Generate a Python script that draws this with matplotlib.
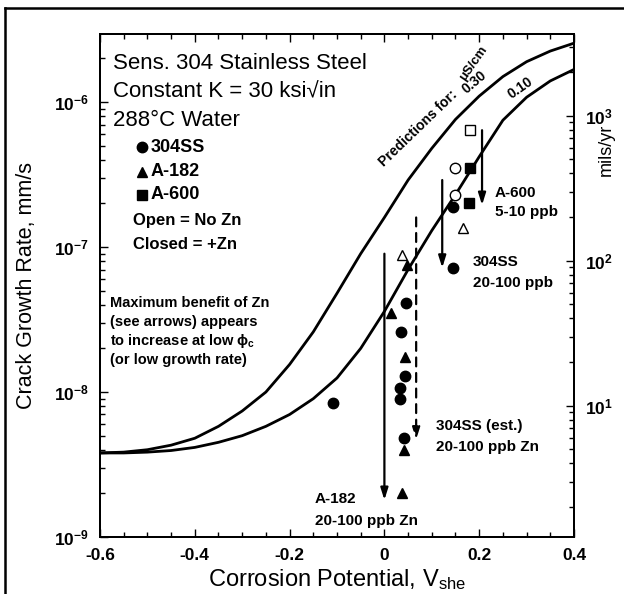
import matplotlib
matplotlib.use('Agg')
import matplotlib.pyplot as plt
from matplotlib.ticker import FixedLocator, NullFormatter, FixedFormatter, MultipleLocator
from matplotlib.lines import Line2D

plt.rcParams['font.family'] = ['Liberation Sans', 'DejaVu Sans']
plt.rcParams['mathtext.fontset'] = 'custom'
plt.rcParams['mathtext.rm'] = 'Liberation Sans'
plt.rcParams['mathtext.it'] = 'Liberation Sans:italic'
plt.rcParams['mathtext.bf'] = 'Liberation Sans:bold'

# ---------------- data ----------------
curve_potential = [-0.6, -0.55, -0.5, -0.45, -0.4, -0.35, -0.3, -0.25, -0.2, -0.15,
                   -0.1, -0.05, 0.0, 0.05, 0.1, 0.15, 0.2, 0.25, 0.3, 0.35, 0.4]
pred_030 = [3.8e-9, 3.85e-9, 4.0e-9, 4.3e-9, 4.8e-9, 5.8e-9, 7.4e-9, 1.0e-8, 1.55e-8, 2.6e-8,
            4.8e-8, 9.0e-8, 1.6e-7, 2.9e-7, 4.8e-7, 7.6e-7, 1.1e-6, 1.5e-6, 1.9e-6, 2.25e-6, 2.55e-6]
pred_010 = [3.8e-9, 3.8e-9, 3.85e-9, 3.95e-9, 4.15e-9, 4.5e-9, 5.0e-9, 5.8e-9, 7.0e-9, 9.0e-9,
            1.25e-8, 2.0e-8, 3.6e-8, 7.0e-8, 1.3e-7, 2.3e-7, 4.2e-7, 7.5e-7, 1.08e-6, 1.4e-6, 1.68e-6]

ss304_closed_x = [0.145, 0.145, 0.046, 0.035, 0.043, 0.033, 0.033, -0.108, 0.041]
ss304_closed_y = [1.9e-7, 7.2e-8, 4.1e-8, 2.6e-8, 1.3e-8, 1.07e-8, 9.0e-9, 8.4e-9, 4.8e-9]
ss304_open_x = [0.149, 0.149]
ss304_open_y = [3.5e-7, 2.3e-7]
a182_closed_x = [0.048, 0.014, 0.043, 0.041, 0.037]
a182_closed_y = [7.5e-8, 3.5e-8, 1.75e-8, 4.0e-9, 2.0e-9]
a182_open_x = [0.037, 0.166]
a182_open_y = [8.8e-8, 1.35e-7]
a600_closed_x = [0.18, 0.178]
a600_closed_y = [3.5e-7, 2.0e-7]
a600_open_x = [0.18]
a600_open_y = [6.4e-7]

arrow_x = [0.206, 0.122, 0.067, 0.0]
arrow_top = [6.4e-7, 2.9e-7, 1.6e-7, 9.0e-8]
arrow_bottom = [1.95e-7, 7.2e-8, 4.7e-9, 1.8e-9]
arrow_dashed = [False, False, True, False]

x_ticks = [-0.6, -0.4, -0.2, 0, 0.2, 0.4]
x_ticklabels = ['-0.6', '-0.4', '-0.2', '0', '0.2', '0.4']
y_ticks = [1e-9, 1e-8, 1e-7, 1e-6]
y_ticklabels = [r'$\mathregular{10^{-9}}$', r'$\mathregular{10^{-8}}$',
                r'$\mathregular{10^{-7}}$', r'$\mathregular{10^{-6}}$']
right_ticks = [10, 100, 1000]
right_ticklabels = [r'$\mathregular{10^{1}}$', r'$\mathregular{10^{2}}$', r'$\mathregular{10^{3}}$']
mm_s_to_mils_yr = 1.243e9

# ---------------- figure ----------------
fig = plt.figure(figsize=(6.24, 5.94), dpi=100)
ax = fig.add_axes([100/624, 1-537/594, 474/624, 503/594])

lw_curve = 2.0
ax.plot(curve_potential, pred_030, color='black', lw=lw_curve, solid_capstyle='round')
ax.plot(curve_potential, pred_010, color='black', lw=lw_curve, solid_capstyle='round')

ms = 7.5
ax.plot(ss304_closed_x, ss304_closed_y, 'o', color='black', ms=ms)
ax.plot(ss304_open_x, ss304_open_y, 'o', mfc='white', mec='black', mew=1.0, ms=ms)
ax.plot(a182_closed_x, a182_closed_y, '^', color='black', ms=ms)
ax.plot(a182_open_x, a182_open_y, '^', mfc='white', mec='black', mew=1.0, ms=ms)
ax.plot(a600_closed_x, a600_closed_y, 's', color='black', ms=ms - 0.5)
ax.plot(a600_open_x, a600_open_y, 's', mfc='white', mec='black', mew=1.0, ms=ms - 0.5)

for xa, yt, yb, dashed in zip(arrow_x, arrow_top, arrow_bottom, arrow_dashed):
    ax.annotate('', xy=(xa, yb), xytext=(xa, yt),
                arrowprops=dict(arrowstyle='-|>,head_length=0.7,head_width=0.22',
                                color='black', lw=1.6,
                                linestyle=(0, (4, 3)) if dashed else '-',
                                shrinkA=0, shrinkB=0))

ax.set_yscale('log')
ax.set_xlim(-0.6, 0.4)
ax.set_ylim(1e-9, 2.95e-6)

ax.xaxis.set_major_locator(FixedLocator(x_ticks))
ax.xaxis.set_major_formatter(FixedFormatter(x_ticklabels))
ax.xaxis.set_minor_locator(MultipleLocator(0.05))
ax.yaxis.set_major_locator(FixedLocator(y_ticks))
ax.yaxis.set_major_formatter(FixedFormatter(y_ticklabels))
ax.yaxis.set_minor_locator(FixedLocator([m * 10.0**e for e in range(-9, -5) for m in range(2, 10)]))
ax.yaxis.set_minor_formatter(NullFormatter())

ax.tick_params(which='both', direction='in', top=True, right=False, width=1.0)
ax.tick_params(which='major', length=6, labelsize=12.5, pad=8)
ax.tick_params(which='minor', length=3.5)
for lab in ax.get_xticklabels() + ax.get_yticklabels():
    lab.set_fontweight('bold')
for s in ax.spines.values():
    s.set_linewidth(1.4)

ax.set_xlabel(r'Corrosion Potential, V$_{\mathregular{she}}$', fontsize=17, labelpad=3)
ax.set_ylabel('Crack Growth Rate, mm/s', fontsize=15.5, labelpad=12)

# right axis (mils/yr)
ax2 = ax.twinx()
ax2.set_yscale('log')
lo, hi = ax.get_ylim()
ax2.set_ylim(lo * mm_s_to_mils_yr, hi * mm_s_to_mils_yr)
ax2.yaxis.set_major_locator(FixedLocator(right_ticks))
ax2.yaxis.set_major_formatter(FixedFormatter(right_ticklabels))
ax2.yaxis.set_minor_locator(FixedLocator([m * 10.0**e for e in range(0, 4) for m in range(2, 10)]))
ax2.yaxis.set_minor_formatter(NullFormatter())
ax2.tick_params(which='both', direction='in', width=1.0)
ax2.tick_params(which='major', length=6, labelsize=12.5, pad=8)
ax2.tick_params(which='minor', length=3.5)
for lab in ax2.get_yticklabels():
    lab.set_fontweight('bold')
for s in ax2.spines.values():
    s.set_linewidth(1.4)
fig.text(606/624, 1-150/594, 'mils/yr', rotation=90, fontsize=13, ha='center', va='center')

# ---------------- annotations ----------------
T = ax.transAxes
ax.text(0.027, 0.942, 'Sens. 304 Stainless Steel', transform=T, fontsize=16, va='center')
ax.text(0.027, 0.885, 'Constant K = 30 ksi\u221ain', transform=T, fontsize=16, va='center')
ax.text(0.027, 0.829, '288\u00b0C Water', transform=T, fontsize=16, va='center')

leg_y = [0.775, 0.726, 0.680]
leg_m = ['o', '^', 's']
leg_t = ['304SS', 'A-182', 'A-600']
for yy, mk, tt in zip(leg_y, leg_m, leg_t):
    ax.plot([0.089], [yy], mk, color='black', ms=ms, transform=T, clip_on=False)
    ax.text(0.107, yy, tt, transform=T, fontsize=13, fontweight='bold', va='center')
ax.text(0.070, 0.630, 'Open = No Zn', transform=T, fontsize=12, fontweight='bold', va='center')
ax.text(0.070, 0.581, 'Closed = +Zn', transform=T, fontsize=12, fontweight='bold', va='center')

note = ['Maximum benefit of Zn', '(see arrows) appears',
        r'to increase at low $\mathbf{\phi_c}$', '(or low growth rate)']
for i, line in enumerate(note):
    ax.text(0.021, 0.465 - i * 0.038, line, transform=T, fontsize=10.5,
            fontweight='bold', va='center')

def px(xp, yp):
    return ((xp - 100) / 474, (537 - yp) / 503)

for (xp, yp), txt in [((495, 193), 'A-600'), ((495, 212), '5-10 ppb'),
                      ((473, 262), '304SS'), ((473, 283), '20-100 ppb'),
                      ((436, 426), '304SS (est.)'), ((436, 447), '20-100 ppb Zn'),
                      ((315, 499), 'A-182'), ((315, 521), '20-100 ppb Zn')]:
    fx, fy = px(xp, yp)
    ax.text(fx, fy, txt, transform=T, fontsize=11, fontweight='bold', va='center')

fx, fy = px(418, 128)
ax.text(fx, fy, 'Predictions for:', transform=T, fontsize=10, fontweight='bold',
        rotation=44, ha='center', va='center', rotation_mode='anchor')
fx, fy = px(474, 82)
ax.text(fx, fy, '0.30', transform=T, fontsize=10, fontweight='bold',
        rotation=40, ha='center', va='center', rotation_mode='anchor')
fx, fy = px(474, 63)
ax.text(fx, fy, '\u03bcS/cm', transform=T, fontsize=9.5, fontweight='bold',
        rotation=55, ha='center', va='center', rotation_mode='anchor')
fx, fy = px(520, 88)
ax.text(fx, fy, '0.10', transform=T, fontsize=10, fontweight='bold',
        rotation=35, ha='center', va='center', rotation_mode='anchor')

# outer frame (left and top edges of the scanned figure box)
fig.add_artist(Line2D([5/624, 5/624], [0, 1-8/594], transform=fig.transFigure,
                      color='black', lw=1.8))
fig.add_artist(Line2D([5/624, 1], [1-8/594, 1-8/594], transform=fig.transFigure,
                      color='black', lw=1.8))

fig.savefig('out.png', dpi=100)
